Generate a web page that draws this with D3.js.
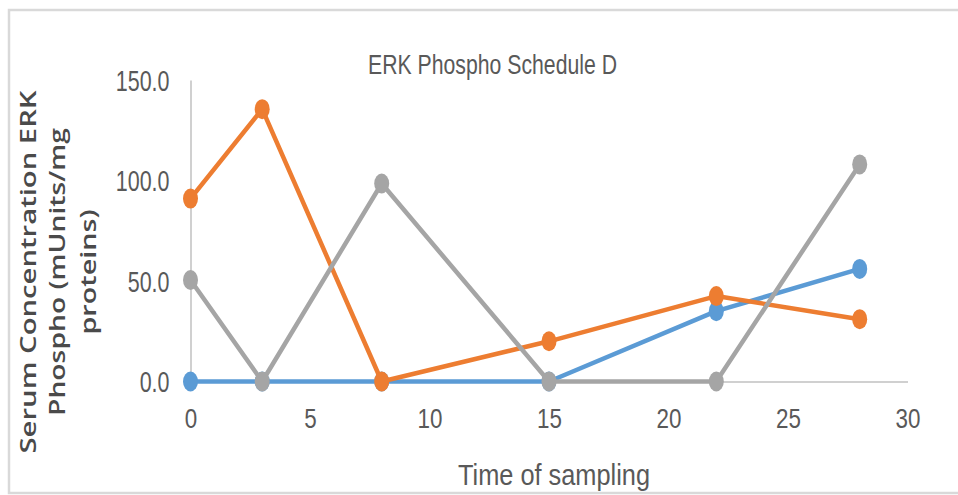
<!DOCTYPE html>
<html>
<head>
<meta charset="utf-8">
<script src="https://cdn.jsdelivr.net/npm/d3@7"></script>
<style>
  html, body { margin: 0; padding: 0; background: #fff; }
  svg { display: block; }
</style>
</head>
<body>
<svg id="chart" width="958" height="495"></svg>
<script>
const title = "ERK Phospho Schedule D";
const xTitle = "Time of sampling";
const yTitleLines = ["Serum Concentration ERK", "Phospho (mUnits/mg", "proteins)"];
const times = [0, 3, 8, 15, 22, 28];
const seriesBlue = [0, 0, 0, 0, 35, 56];
const seriesOrange = [91, 135.5, 0, 20, 42.5, 31];
const seriesGray = [50.5, 0, 98.5, 0, 0, 108];
const xTicks = [0, 5, 10, 15, 20, 25, 30];
const yTicks = [0, 50, 100, 150];

const seriesList = [
  { values: seriesBlue, color: "#5B9BD5" },
  { values: seriesOrange, color: "#ED7D31" },
  { values: seriesGray, color: "#A5A5A5" }
];

const svg = d3.select("#chart");
const font = "'Liberation Sans Narrow', 'Liberation Sans', sans-serif";
const textColor = "#595959";

function condense(sel, factor) {
  sel.each(function () {
    const w = this.getComputedTextLength();
    d3.select(this).attr("textLength", w * factor).attr("lengthAdjust", "spacingAndGlyphs");
  });
}

// outer frame
svg.append("rect").attr("x", 9).attr("y", 10).attr("width", 1000).attr("height", 483)
  .attr("fill", "#fff").attr("stroke", "#d9d9d9").attr("stroke-width", 2.5);

const x = d3.scaleLinear().domain([0, 30]).range([190.5, 907.5]);
const y = d3.scaleLinear().domain([0, 150]).range([381.5, 80]);

// y axis
const gy = svg.append("g").attr("transform", `translate(${x(0)},0)`)
  .call(d3.axisLeft(y).tickValues(yTicks).tickSize(0).tickPadding(21).tickFormat(d3.format(".1f")));
gy.select(".domain").attr("stroke", "#d0d0d0").attr("stroke-width", 2);
gy.selectAll("text").attr("font-family", font).attr("font-size", 29).attr("fill", textColor)
  .attr("dy", "0.36em").call(condense, 0.74);

// x axis
const gx = svg.append("g").attr("transform", `translate(0,${y(0)})`)
  .call(d3.axisBottom(x).tickValues(xTicks).tickSize(0).tickFormat(d3.format("d")));
gx.select(".domain").attr("stroke", "#d0d0d0").attr("stroke-width", 2);
gx.selectAll("text").attr("font-family", font).attr("font-size", 28).attr("fill", textColor)
  .attr("y", 46).attr("dy", 0).call(condense, 0.8);

// series
const line = d3.line().x((d, i) => x(times[i])).y(d => y(d));
seriesList.forEach(s => {
  const g = svg.append("g");
  g.append("path").datum(s.values).attr("d", line).attr("fill", "none")
    .attr("stroke", s.color).attr("stroke-width", 4.5).attr("stroke-linejoin", "round");
  g.selectAll("ellipse").data(s.values).join("ellipse")
    .attr("cx", (d, i) => x(times[i])).attr("cy", d => y(d))
    .attr("rx", 7.5).attr("ry", 10).attr("fill", s.color);
});

// title
svg.append("text").attr("x", 492.5).attr("y", 74).attr("text-anchor", "middle")
  .attr("font-family", font).attr("font-size", 28).attr("fill", textColor)
  .attr("textLength", 249).attr("lengthAdjust", "spacingAndGlyphs").text(title);

// x title
svg.append("text").attr("x", 554).attr("y", 485).attr("text-anchor", "middle")
  .attr("font-family", font).attr("font-size", 30).attr("fill", textColor)
  .attr("textLength", 192).attr("lengthAdjust", "spacingAndGlyphs").text(xTitle);

// y title (three lines, rotated)
const yBase = [36, 65, 96];
const yLen = [363, 288, 125];
yTitleLines.forEach((t, i) => {
  svg.append("text").attr("transform", `translate(${yBase[i]},272) rotate(-90)`)
    .attr("text-anchor", "middle").attr("font-family", "'Open Sans', sans-serif")
    .attr("font-size", 21).attr("font-weight", 600).attr("fill", "#4a4a4a")
    .attr("textLength", yLen[i]).attr("lengthAdjust", "spacingAndGlyphs").text(t);
});
</script>
</body>
</html>
